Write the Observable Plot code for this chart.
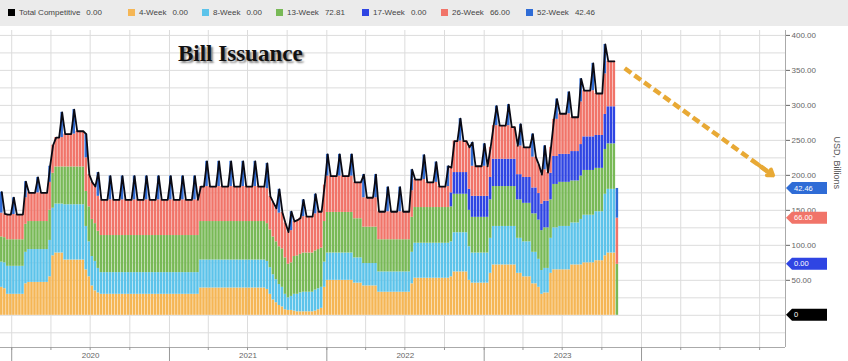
<!DOCTYPE html>
<html><head><meta charset="utf-8">
<script src="https://cdn.jsdelivr.net/npm/d3@7"></script>
<script src="https://cdn.jsdelivr.net/npm/@observablehq/plot@0.6"></script>
<style>
html,body{margin:0;padding:0;background:#fff;}
#wrap{position:relative;width:848px;height:361px;overflow:hidden;font-family:"Liberation Sans",Arial,sans-serif;}
#legend{position:absolute;left:0;top:0;width:848px;height:26px;background:#ebebeb;}
.item{position:absolute;top:8px;font-size:8px;color:#444;line-height:10px;white-space:nowrap;}
.item i{display:inline-block;width:7px;height:7px;margin-right:4px;vertical-align:-1px;}
.item b{font-weight:normal;margin-left:6px;}
#title{position:absolute;left:178px;top:42px;font:bold 23px/1 "Liberation Serif","Times New Roman",serif;color:#111;text-shadow:2px 2px 2px #888;}
#chart{position:absolute;left:0;top:26px;}
</style></head><body>
<div id="wrap"><div id="legend"></div><div id="chart"></div><div id="title">Bill Issuance</div></div>
<script>
// ---------- data (weekly, USD billions) ----------
const firstWeek = "2019-12-09";
const seriesNames = ["4-Week","8-Week","13-Week","17-Week","26-Week","52-Week"];
const seriesColors = ["#f5b655","#5cc3ea","#78b956","#2f45e3","#f17469","#2f6cd6"];
const legendNames = ["Total Competitive","4-Week","8-Week","13-Week","17-Week","26-Week","52-Week"];
const legendValues = ["0.00","0.00","0.00","72.81","0.00","66.00","42.46"];
const yearLabels = ["2020","2021","2022","2023"];
const yTicks = [50,100,150,200,250,300,350,400];
const unitLabel = "USD, Billions";
const arrowNote = [{x1:"2023-11-23", y1:353, x2:"2024-11-01", y2:200}];

const w4 = [40,38,30,30, 30,30,30,30, 45,47,47,47, 47,47,47,47,
55,85,89,89, 89,79,79,79, 79,79,79,79, 65,55,42,35,
32,30,30,30, 30,30,30,30, 30,30,30,30, 30,30,30,30,
30,30,30,30, 30,30,30,30, 30,30,30,30, 30,30,30,30,
30,30,39,39, 39,39,39,39, 39,39,39,39, 39,39,39,39,
39,39,39,39, 39,39,39,39, 37,30,22,18, 14,12,8,7,
7,6,5,5, 5,5,5,5, 6,8,10,40, 50,50,50,50,
50,50,50,50, 50,46,46,46, 42,42,42,42, 42,33,33,33,
33,33,33,33, 33,33,33,33, 45,53,53,53, 53,53,53,53,
53,53,53,53, 53,55,62,62, 62,62,62,50, 46,46,46,46,
46,46,60,72, 72,72,72,72, 72,72,72,60, 60,55,55,55,
45,45,40,30, 32,32,60,65, 65,65,65,65, 65,72,72,72,
72,75,75,75, 75,78,78,78, 85,89,89,89, 0];
const w8 = [36,37,40,40, 40,40,40,40, 45,47,47,47, 47,47,47,47,
52,68,70,70, 70,79,79,79, 79,79,79,79, 62,50,42,42,
35,31,31,31, 31,31,31,31, 31,31,31,31, 31,31,31,31,
31,31,31,31, 31,31,31,31, 31,31,31,31, 31,31,31,31,
31,31,40,40, 40,40,40,40, 40,40,40,40, 40,40,40,40,
40,40,40,40, 40,40,40,40, 40,38,36,33, 30,28,22,18,
20,24,25,27, 28,28,28,28, 30,30,30,36, 39,39,39,39,
39,39,39,39, 39,36,36,36, 32,32,32,32, 32,29,29,29,
29,29,29,29, 29,29,29,29, 45,50,50,50, 50,50,50,50,
50,50,50,50, 50,50,56,56, 56,56,56,48, 43,43,43,43,
43,43,50,55, 55,55,55,55, 55,55,55,50, 50,50,50,50,
45,45,40,34, 35,35,50,60, 60,62,62,62, 62,60,60,60,
65,68,68,68, 68,70,70,70, 88,91,91,91, 0];
const w13 = [36,36,38,38, 38,38,38,38, 40,40,40,40, 40,40,40,40,
43,50,53,53, 53,54,54,54, 54,54,54,54, 50,50,53,54,
53,53,53,53, 53,53,53,53, 53,53,53,53, 53,53,53,53,
53,53,53,53, 53,53,53,53, 53,53,53,53, 53,53,53,53,
53,53,55,55, 55,55,55,55, 55,55,55,55, 55,55,55,55,
55,55,55,55, 55,55,55,55, 54,54,54,54, 54,55,52,48,
48,54,55,55, 56,56,56,56, 56,56,56,58, 58,58,58,58,
58,58,58,58, 58,56,56,56, 52,52,52,52, 52,46,46,46,
46,46,46,46, 46,46,46,46, 50,51,51,51, 51,51,51,51,
51,51,51,51, 51,50,55,55, 55,55,55,52, 51,51,51,51,
51,51,55,57, 57,57,57,57, 57,57,57,55, 55,55,55,55,
55,55,56,57, 58,58,55,62, 62,63,63,63, 63,60,60,60,
62,64,64,64, 64,62,62,62, 64,65,65,65, 72.81];
const w17 = [0,0,0,0, 0,0,0,0, 0,0,0,0, 0,0,0,0,
0,0,0,0, 0,0,0,0, 0,0,0,0, 0,0,0,0,
0,0,0,0, 0,0,0,0, 0,0,0,0, 0,0,0,0,
0,0,0,0, 0,0,0,0, 0,0,0,0, 0,0,0,0,
0,0,0,0, 0,0,0,0, 0,0,0,0, 0,0,0,0,
0,0,0,0, 0,0,0,0, 0,0,0,0, 0,0,0,0,
0,0,0,0, 0,0,0,0, 0,0,0,0, 0,0,0,0,
0,0,0,0, 0,0,0,0, 0,0,0,0, 0,0,0,0,
0,0,0,0, 0,0,0,0, 0,0,0,0, 0,0,0,0,
0,0,0,0, 0,20,31,31, 31,31,31,30, 30,30,30,30,
30,30,32,39, 39,39,39,39, 39,39,39,36, 36,37,37,37,
37,37,38,38, 38,38,38,40, 40,40,40,40, 40,42,42,42,
45,48,48,48, 48,47,47,47, 50,53,53,53, 0];
const w26 = [34,34,36,36, 36,36,36,36, 38,41,41,41, 41,41,41,41,
40,40,42,42, 42,47,47,47, 47,51,51,51, 48,46,53,53,
50,51,51,51, 51,51,51,51, 51,51,51,51, 51,51,51,51,
51,51,51,51, 51,51,51,51, 51,51,51,51, 51,51,51,51,
51,51,50,50, 50,50,50,50, 50,50,50,50, 50,50,50,50,
50,50,50,50, 50,50,50,50, 50,48,49,48, 48,52,50,46,
46,50,51,52, 52,52,52,52, 53,54,52,52, 52,52,52,52,
52,52,52,52, 52,52,52,52, 42,42,42,42, 42,40,40,40,
40,40,40,40, 40,40,40,40, 38,40,40,40, 40,36,36,36,
36,30,30,30, 30,36,45,45, 45,45,45,60, 43,43,43,43,
43,43,43,48, 48,48,48,48, 48,46,46,41, 41,43,43,43,
44,44,41,42, 45,41,37,53, 53,58,58,58, 58,49,49,49,
61,66,66,66, 66,60,60,60, 58,65,65,65, 66];
const w52 = [30,0,0,0, 24,0,0,0, 23,0,0,0, 22,0,0,0,
23,0,0,0, 36,0,0,0, 35,0,0,0, 34,0,0,0,
34,0,0,0, 34,0,0,0, 34,0,0,0, 34,0,0,0,
34,0,0,0, 34,0,0,0, 34,0,0,0, 34,0,0,0,
34,0,0,0, 36,0,0,0, 36,0,0,0, 36,0,0,0,
36,0,0,0, 36,0,0,0, 36,0,0,0, 34,0,0,0,
27,0,0,0, 24,0,0,0, 28,0,0,0, 31,0,0,0,
31,0,0,0, 31,0,0,0, 33,0,0,0, 33,0,0,0,
35,0,0,0, 35,0,0,0, 30,0,0,0, 35,0,0,0,
29,0,0,0, 29,0,0,0, 32,0,0,0, 34,0,0,0,
32,0,0,0, 28,0,0,0, 30,0,0,0, 31,0,0,0,
33,0,0,0, 34,0,0,0, 29,0,0,0, 31,0,0,0,
33,0,0,0, 39,0,0,0, 42,0,0,0, 42.46];
const seriesValues = [w4, w8, w13, w17, w26, w52];

// ---------- build tables ----------
const start = new Date(firstWeek);
const dates = w4.map((_, i) => d3.utcDay.offset(start, 7 * i));
const stackRows = [];
dates.forEach((date, i) => seriesValues.forEach((vals, k) =>
  stackRows.push({date, series: seriesNames[k], value: vals[i]})));
// Total Competitive line: stack top; the last (partial) week reports 0 and is not drawn
const totals = dates.slice(0, dates.length - 1).map((date, i) =>
  ({date, total: d3.sum(seriesValues, s => s[i])}));

// right-edge value tags at each series' stacked top in the last week (hidden ones dropped)
const lastVals = seriesValues.map(s => s[s.length - 1]);
let cum = 0;
const allTags = seriesNames.map((n, k) => { cum += lastVals[k]; return {value: cum, label: lastVals[k].toFixed(2), color: seriesColors[k]}; });
allTags.push({value: 0, label: "0", color: "#000"});
const tags = allTags.filter((t, k) => !allTags.slice(k + 1).some(u => Math.abs(u.value - t.value) < 5));

// annotation arrow: dashed shaft + solid head on its last stretch
const arrowShaft = arrowNote.map(d => ({x1: new Date(d.x1), y1: d.y1, x2: new Date(d.x2), y2: d.y2}));
const arrowHead = arrowShaft.map(d => ({
  x1: new Date(+d.x1 + 0.9 * (d.x2 - d.x1)), y1: d.y1 + 0.9 * (d.y2 - d.y1), x2: d.x2, y2: d.y2}));

// ---------- legend ----------
const legendX = [8,128,202,276,362,441,526];
const legendColors = ["#000", ...seriesColors];
document.getElementById("legend").innerHTML = legendNames.map((n, k) =>
  `<span class="item" style="left:${legendX[k]}px"><i style="background:${legendColors[k]}"></i>${n}<b>${legendValues[k]}</b></span>`).join("");

// ---------- scales / ticks ----------
const xDomain = [new Date("2019-12-06"), new Date("2024-11-30")];
const yDomain = [-46, 407];
const quarterTicks = d3.utcMonth.every(3).range(new Date("2020-01-01"), xDomain[1]);
const yearStarts = d3.utcYear.range(new Date("2020-01-01"), xDomain[1]);
const midYears = yearLabels.map(y => new Date(`${y}-07-02`));
const gridY = d3.range(-25, 401, 25);

const tagMark = (index, scales, values, dim) => {
  const g = d3.create("svg:g").attr("text-anchor", "start");
  const x0 = dim.width - dim.marginRight + 1;
  for (const t of tags) {
    const y = scales.y(t.value);
    g.append("path").attr("d", `M${x0},${y}l6,-6h35v12h-35z`).attr("fill", t.color);
    g.append("text").attr("x", x0 + 8).attr("y", y).attr("dy", "0.35em")
      .attr("fill", "#fff").attr("font-size", 7.5).text(t.label);
  }
  return g.node();
};

const gold = "#e8a935";
const chart = Plot.plot({
  width: 848, height: 335,
  marginLeft: 0, marginRight: 63, marginTop: 4, marginBottom: 14,
  style: {fontFamily: "Liberation Sans, Arial, sans-serif", fontSize: "8px", color: "#666", background: "transparent", overflow: "visible"},
  x: {type: "utc", domain: xDomain, axis: null},
  y: {domain: yDomain, axis: null},
  color: {domain: seriesNames, range: seriesColors},
  marks: [
    Plot.gridY({ticks: gridY, stroke: "#dcdcdc", strokeOpacity: 1}),
    Plot.gridX({ticks: quarterTicks, stroke: "#dcdcdc", strokeOpacity: 1}),
    Plot.rectY(stackRows, {
      x: "date",
      x1: d => d3.utcHour.offset(d.date, -70),
      x2: d => d3.utcHour.offset(d.date, 70),
      y: "value", fill: "series", order: seriesNames
    }),
    Plot.line(totals, {x: "date", y: "total", stroke: "#0a0a14", strokeWidth: 1.8}),
    Plot.link(arrowShaft, {x1: "x1", y1: "y1", x2: "x2", y2: "y2",
      stroke: gold, strokeWidth: 4.5, strokeDasharray: "8,4", strokeLinecap: "butt"}),
    Plot.arrow(arrowHead, {x1: "x1", y1: "y1", x2: "x2", y2: "y2",
      stroke: gold, strokeWidth: 4, headLength: 11, headAngle: 70}),
    Plot.ruleX([xDomain[1]], {stroke: "#aaa"}),
    Plot.ruleY([yDomain[0]], {stroke: "#aaa"}),
    Plot.axisY({anchor: "right", ticks: yTicks, tickFormat: d => d.toFixed(2), tickSize: 4, tickPadding: 2, color: "#666", label: null}),
    Plot.axisX({ticks: quarterTicks, tickSize: 3, tickFormat: () => "", color: "#999", label: null}),
    Plot.axisX({ticks: yearStarts, tickSize: 14, tickFormat: () => "", color: "#999", label: null}),
    Plot.axisX({ticks: midYears, tickSize: 0, tickPadding: 5, tickFormat: d3.utcFormat("%Y"), color: "#666", label: null}),
    Plot.text([unitLabel], {frameAnchor: "right", dx: 51, rotate: 90, fontSize: 9, fill: "#555"}),
    tagMark
  ]
});
document.getElementById("chart").appendChild(chart);
</script>
</body></html>
